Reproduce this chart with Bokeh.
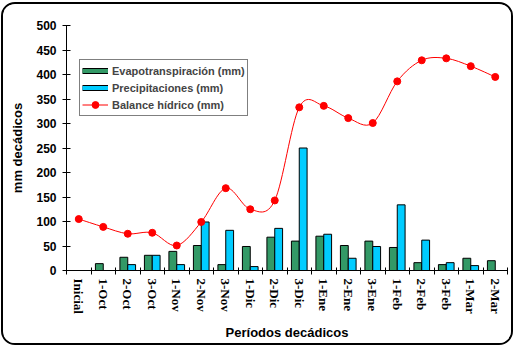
import numpy as np
from bokeh.plotting import figure
from bokeh.models import Range1d, FixedTicker, Legend, LegendItem, ColumnDataSource
from bokeh.embed import file_html
from bokeh.resources import INLINE

periods = ["Inicial", "1-Oct", "2-Oct", "3-Oct", "1-Nov", "2-Nov", "3-Nov", "1-Dic", "2-Dic",
           "3-Dic", "1-Ene", "2-Ene", "3-Ene", "1-Feb", "2-Feb", "3-Feb", "1-Mar", "2-Mar"]
evapo = [0, 14, 27, 31, 39, 51, 12, 49, 68, 60, 70, 51, 60, 47, 16, 12, 25, 20]
precip = [0, 0, 12, 31, 12, 99, 82, 8, 86, 250, 74, 25, 49, 134, 62, 16, 10, 0]
balance = [105, 89, 75, 77, 51, 99, 168, 125, 143, 333, 336, 311, 301, 386, 429, 433, 417, 395]
yticks = [0, 50, 100, 150, 200, 250, 300, 350, 400, 450, 500]

GREEN = "#339966"
CYAN = "#00CCFF"
RED = "#FF0000"

n = len(periods)
xs = np.arange(n, dtype=float)

p = figure(width=512, height=343, output_backend="svg", toolbar_location=None,
           x_range=Range1d(-0.5, n - 0.5), y_range=Range1d(0, 500),
           min_border_left=63, min_border_right=8, min_border_top=21, min_border_bottom=77)
p.styles = {"margin-left": "1px", "margin-top": "2px", "border": "2px solid black",
            "border-radius": "14px", "overflow": "hidden"}
p.outline_line_color = None
p.xgrid.visible = False
p.ygrid.visible = False
p.background_fill_color = "white"
p.border_fill_color = "white"

src = ColumnDataSource(dict(x=xs, xg=xs - 0.16, xc=xs + 0.16,
                            evapo=evapo, precip=precip, balance=balance))

p.vbar(x="xg", top="evapo", source=src, width=0.32, fill_color=GREEN,
       line_color="black", line_width=1)
p.vbar(x="xc", top="precip", source=src, width=0.32, fill_color=CYAN,
       line_color="black", line_width=1)

# smoothed line (Excel-style) through the balance points
b = np.array(balance, dtype=float)
xe = np.concatenate([[xs[0]], xs, [xs[-1]]])
be = np.concatenate([[b[0]], b, [b[-1]]])
x0 = xs[:-1]; y0 = b[:-1]; x1 = xs[1:]; y1 = b[1:]
cx0 = x0 + (xe[2:-1] - xe[0:-3]) / 6.0
cy0 = y0 + (be[2:-1] - be[0:-3]) / 6.0
cx1 = x1 - (xe[3:] - xe[1:-2]) / 6.0
cy1 = y1 - (be[3:] - be[1:-2]) / 6.0
bez = p.bezier(x0=x0, y0=y0, x1=x1, y1=y1, cx0=cx0, cy0=cy0, cx1=cx1, cy1=cy1,
               line_color=RED, line_width=1)
sc = p.scatter(x="x", y="balance", source=src, size=7, fill_color=RED, line_color=RED)

# legend swatches (hidden renderers, only drawn in the legend)
e1 = p.line(x="x", y="evapo", source=src, line_color="black", line_width=6, visible=False)
e2 = p.line(x="x", y="evapo", source=src, line_color=GREEN, line_width=4, visible=False)
p1 = p.line(x="x", y="precip", source=src, line_color="black", line_width=6, visible=False)
p2 = p.line(x="x", y="precip", source=src, line_color=CYAN, line_width=4, visible=False)

legend = Legend(items=[
    LegendItem(label="Evapotranspiración (mm)", renderers=[e1, e2]),
    LegendItem(label="Precipitaciones (mm)", renderers=[p1, p2]),
    LegendItem(label="Balance hídrico (mm)", renderers=[bez, sc]),
], location=(13, 154), glyph_width=26, glyph_height=17, label_height=17, spacing=0,
    padding=2, margin=0, label_standoff=4, border_line_color="black", border_line_width=1,
    label_text_font="Liberation Sans", label_text_font_style="bold",
    label_text_font_size="11px", background_fill_alpha=1.0,
    inactive_fill_alpha=0.0, click_policy="none")
p.add_layout(legend, "center")

# axes
ya = p.yaxis[0]
ya.ticker = FixedTicker(ticks=yticks)
ya.major_tick_in = 4
ya.major_tick_out = 4
ya.minor_tick_line_color = None
ya.axis_line_color = "black"
ya.major_tick_line_color = "black"
ya.major_label_text_font = "Liberation Sans"
ya.major_label_text_font_style = "bold"
ya.major_label_text_font_size = "12px"
ya.major_label_text_color = "black"
ya.major_label_standoff = 6
ya.axis_label = "mm decádicos"
ya.axis_label_text_font = "Liberation Sans"
ya.axis_label_text_font_style = "bold"
ya.axis_label_text_font_size = "13px"
ya.axis_label_text_color = "black"
ya.axis_label_standoff = 8

xa = p.xaxis[0]
xa.ticker = FixedTicker(ticks=list(range(n)), minor_ticks=[i - 0.5 for i in range(n + 1)])
xa.major_tick_in = 0
xa.major_tick_out = 0
xa.minor_tick_in = 3
xa.minor_tick_out = 4
xa.minor_tick_line_color = "black"
xa.axis_line_color = "black"
xa.major_label_overrides = {i: periods[i] for i in range(n)}
xa.major_label_orientation = "vertical"
xa.major_label_text_font = "Liberation Serif"
xa.major_label_text_font_style = "bold"
xa.major_label_text_font_size = "13px"
xa.major_label_text_color = "black"
xa.major_label_standoff = 4
xa.axis_label = "Períodos decádicos"
xa.axis_label_text_font = "Liberation Sans"
xa.axis_label_text_font_style = "bold"
xa.axis_label_text_font_size = "13px"
xa.axis_label_text_color = "black"
xa.axis_label_standoff = 8

open("out.html", "w").write(file_html(p, INLINE))
